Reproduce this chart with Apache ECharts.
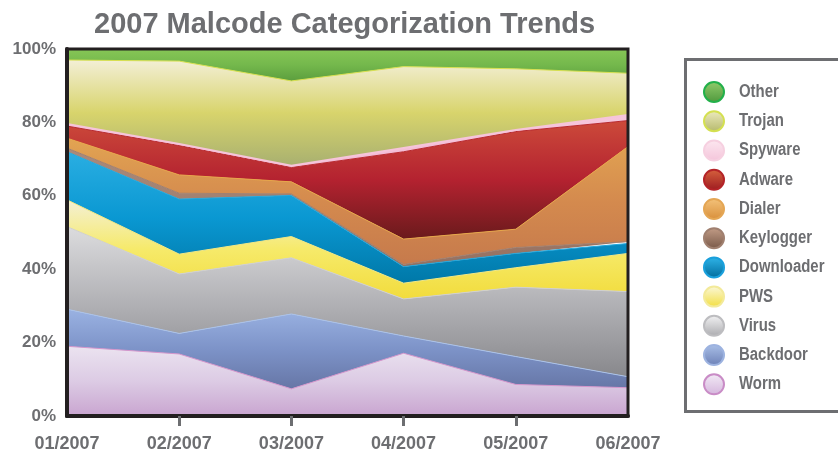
<!DOCTYPE html>
<html>
<head>
<meta charset="utf-8">
<script src="https://cdn.jsdelivr.net/npm/echarts@6/dist/echarts.min.js"></script>
<style>
  html, body { margin: 0; padding: 0; background: #ffffff; }
  #chart { width: 838px; height: 453px; }
</style>
</head>
<body>
<div id="chart"></div>
<script>
// Monthly share (%) of each malcode category, stacked bottom to top.
const months = ['01/2007', '02/2007', '03/2007', '04/2007', '05/2007', '06/2007'];
const worm       = [19.0, 16.9,  7.4, 17.1,  8.6,  7.7];
const backdoor   = [10.1,  5.6, 20.4,  4.7,  7.6,  3.0];
const virus      = [22.5, 16.2, 15.3, 10.1, 18.9, 23.2];
const pws        = [ 7.3,  5.4,  5.8,  4.3,  5.3, 10.4];
const downloader = [13.1, 15.0, 11.2,  4.5,  3.9,  2.7];
const keylogger  = [ 1.0,  1.6,  0.4,  0.6,  1.6,  0.5];
const dialer     = [ 2.7,  5.0,  3.3,  6.9,  5.0, 25.9];
const adware     = [ 3.3,  8.0,  3.9, 23.8, 26.6,  7.1];
const spyware    = [ 0.6,  0.4,  0.5,  1.0,  0.4,  1.5];
const trojan     = [17.4, 22.6, 23.1, 22.2, 16.7, 11.4];
const other      = [ 3.0,  3.3,  8.7,  4.8,  5.4,  6.6];

const seriesOrder = [
  ['Worm', worm], ['Backdoor', backdoor], ['Virus', virus], ['PWS', pws],
  ['Downloader', downloader], ['Keylogger', keylogger], ['Dialer', dialer],
  ['Adware', adware], ['Spyware', spyware], ['Trojan', trojan], ['Other', other]
];

// Fill gradients (top -> bottom), edge line colour, legend swatch colours.
const styles = {
  Worm:       { stops: ['#ebe3f0', '#dccbe4', '#c9a5d0'], line: '#d596cc', icon: ['#f3ecf6', '#d4b4dc'], border: '#c98cc6' },
  Backdoor:   { stops: ['#9ab2e2', '#7d93c8', '#6676a6'], line: '#aac2ea', icon: ['#aac0e8', '#6c80b6'], border: '#9db3e0' },
  Virus:      { stops: ['#dcdcde', '#b2b2b6', '#88888c'], line: '#cfcfd2', icon: ['#f4f4f5', '#a9a9ad'], border: '#bdbdc0' },
  PWS:        { stops: ['#f4f0d6', '#f6ea6a', '#f2dc3c'], line: '#f4e880', icon: ['#fbf8dc', '#f2de3e'], border: '#f3ea9a' },
  Downloader: { stops: ['#2aaee2', '#0a98d2', '#0078a8'], line: '#22a8de', icon: ['#30b6ea', '#006b9c'], border: '#1aa0dc' },
  Keylogger:  { stops: ['#a98a7c', '#a08070', '#967060'], line: '#a08070', icon: ['#c49e88', '#785848'], border: '#a08070' },
  Dialer:     { stops: ['#e2a452', '#d48a4e', '#c67a4c'], line: '#e8a848', icon: ['#f4c47c', '#d88e3a'], border: '#e4a654' },
  Adware:     { stops: ['#cc4a3a', '#b42230', '#6a1a1c'], line: '#b82a30', icon: ['#d8643e', '#9c1a20'], border: '#b42428' },
  Spyware:    { stops: ['#f6c6dc', '#f4c0d8', '#f2bad4'], line: '#f6c4da', icon: ['#fce8f0', '#f4c4da'], border: '#f6d0e0' },
  Trojan:     { stops: ['#f3efd6', '#d8d46c', '#a8b070'], line: '#d8e050', icon: ['#eeebc0', '#b4b86a'], border: '#d4e050' },
  Other:      { stops: ['#86c656', '#74b84c', '#5c9e3e'], line: '#9cd050', icon: ['#92cc6c', '#4e983c'], border: '#22b04a' }
};

function vGrad(c) {
  return {
    type: 'linear', x: 0, y: 0, x2: 0, y2: 1,
    colorStops: [
      { offset: 0, color: c[0] },
      { offset: 0.5, color: c[1] },
      { offset: 1, color: c[2] }
    ]
  };
}

const series = seriesOrder.map(function (entry) {
  const name = entry[0];
  const st = styles[name];
  return {
    name: name,
    type: 'line',
    stack: 'total',
    data: entry[1],
    symbol: 'none',
    smooth: false,
    lineStyle: { width: name === 'Spyware' ? 2 : 1, color: st.line },
    itemStyle: { color: st.stops[1] },
    areaStyle: { color: vGrad(st.stops), opacity: 1 },
    emphasis: { disabled: true }
  };
});

// Legend runs from the top of the stack (Other) down to Worm.
const legendNames = seriesOrder.map(function (e) { return e[0]; }).reverse();
const swatchBorder = 2;
const legendData = legendNames.map(function (name) {
  const st = styles[name];
  return {
    name: name,
    icon: 'circle',
    itemStyle: {
      color: { type: 'linear', x: 0, y: 0, x2: 0, y2: 1,
        colorStops: [{ offset: 0, color: st.icon[0] }, { offset: 1, color: st.icon[1] }] },
      borderColor: st.border,
      borderWidth: swatchBorder
    }
  };
});

const grey = '#6d6e71';
const swatch = 20;
const rowStep = 29.23;
const firstRowY = 92;               // centre of the first legend row
const swatchX = 714;                // centre of the legend swatches
const legendOuter = swatch + swatchBorder;

// Legend captions in a narrowed bold face.
const legendLabels = legendNames.map(function (name, i) {
  return {
    type: 'text',
    x: swatchX + swatch / 2 + 15,
    y: firstRowY + i * rowStep,
    scaleX: 0.83,
    z: 10,
    style: {
      text: name,
      font: 'bold 18px "Liberation Sans", Arial, sans-serif',
      fill: grey,
      verticalAlign: 'middle',
      align: 'left'
    }
  };
});

const chart = echarts.init(document.getElementById('chart'), null, { renderer: 'canvas' });

chart.setOption({
  animation: false,
  backgroundColor: '#ffffff',
  title: {
    text: '2007 Malcode Categorization Trends',
    left: 89,
    top: 5,
    textStyle: { fontFamily: 'Liberation Sans, Arial, sans-serif', fontWeight: 'bold', fontSize: 29, color: grey }
  },
  grid: {
    left: 67, top: 49, width: 561, height: 367,
    show: true, borderColor: '#231f20', borderWidth: 3,
    backgroundColor: 'transparent', z: 5
  },
  xAxis: {
    type: 'category',
    data: months,
    boundaryGap: false,
    z: 6,
    axisLine: { show: true, lineStyle: { color: '#231f20', width: 4 } },
    axisTick: {
      show: true, length: 10,
      interval: function (i) { return i > 0 && i < months.length - 1; },
      lineStyle: { color: grey, width: 3 }
    },
    axisLabel: {
      margin: 19,
      interval: 0,
      fontFamily: 'Liberation Sans, Arial, sans-serif',
      fontWeight: 'bold', fontSize: 18, color: grey
    },
    splitLine: { show: false }
  },
  yAxis: {
    type: 'value',
    min: 0, max: 100, interval: 20,
    z: 6,
    axisLine: { show: true, lineStyle: { color: '#231f20', width: 4 } },
    axisTick: { show: false },
    axisLabel: {
      margin: 11,
      formatter: '{value}%',
      fontFamily: 'Liberation Sans, Arial, sans-serif',
      fontWeight: 'bold', fontSize: 17, color: grey
    },
    splitLine: { show: false }
  },
  legend: {
    orient: 'vertical',
    left: swatchX - legendOuter / 2,
    top: firstRowY - legendOuter / 2,
    padding: 0,
    itemWidth: swatch,
    itemHeight: swatch,
    itemGap: rowStep - legendOuter,
    data: legendData,
    selectedMode: false,
    formatter: function () { return ''; },
    textStyle: { fontSize: 1 }
  },
  graphic: [{
    type: 'rect',
    z: -1,
    shape: { x: 685.5, y: 59.5, width: 200, height: 352 },
    style: { fill: '#ffffff', stroke: grey, lineWidth: 3 }
  }].concat(legendLabels),
  series: series
});
</script>
</body>
</html>
